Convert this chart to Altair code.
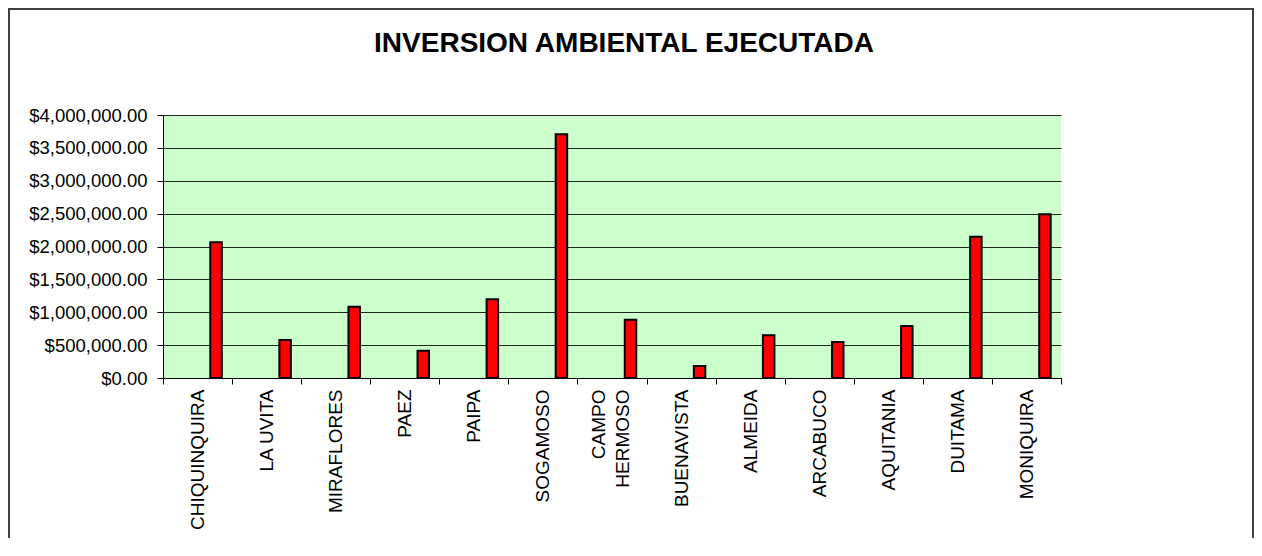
import altair as alt
import pandas as pd

categories = ["CHIQUINQUIRA", "LA UVITA", "MIRAFLORES", "PAEZ", "PAIPA", "SOGAMOSO",
              "CAMPO HERMOSO", "BUENAVISTA", "ALMEIDA", "ARCABUCO", "AQUITANIA",
              "DUITAMA", "MONIQUIRA"]
values = [2065000, 578000, 1085000, 415000, 1197000, 3706000, 887000, 183000,
          649000, 548000, 790000, 2149000, 2490000]
y_ticks = [0, 500000, 1000000, 1500000, 2000000, 2500000, 3000000, 3500000, 4000000]
title_text = "INVERSION AMBIENTAL EJECUTADA"

df = pd.DataFrame({"municipio": categories, "inversion": values})

FONT = "Liberation Sans, Arial, sans-serif"
NB = "\u00a0"
label_expr = ("datum.label == 'CAMPO HERMOSO' ? ['CAMPO" + NB * 3 + "', 'HERMOSO'] : datum.label")

bars = alt.Chart(df).mark_bar(
    width=11.5, xOffset=18.5, fill="#FF0000", stroke="#000000", strokeWidth=2
).encode(
    x=alt.X("municipio:N", sort=categories, title=None,
            scale=alt.Scale(paddingInner=0, paddingOuter=0),
            axis=alt.Axis(labelAngle=-90, tickBand="extent", labelFontSize=19,
                          labelFont=FONT, labelColor="#000000", domainColor="#000000",
                          tickColor="#000000", tickSize=6, labelPadding=5,
                          labelLineHeight=24, grid=False,
                          labelOffset={"condition": {"test": "datum.label == 'CAMPO HERMOSO'",
                                                     "value": -14}, "value": 0},
                          labelExpr=label_expr)),
    y=alt.Y("inversion:Q", title=None,
            scale=alt.Scale(domain=[0, 4000000], nice=False),
            axis=alt.Axis(values=y_ticks, format="$,.2f", labelFontSize=18.5,
                          labelFont=FONT, labelColor="#000000", domainColor="#000000",
                          tickColor="#000000", tickSize=6, labelPadding=10,
                          grid=True, gridColor="#000000", gridWidth=1, gridOpacity=0.85))
)

title = alt.Chart(alt.Data(values=[{"t": title_text}])).mark_text(
    font=FONT, fontSize=28, fontWeight="bold", color="#000000",
    align="center", baseline="alphabetic"
).encode(
    text="t:N", x=alt.value(461), y=alt.value(-63)
)

border = alt.Chart(alt.Data(values=[{}])).mark_rect(
    fill=None, stroke="#404040", strokeWidth=2
).encode(
    x=alt.value(-154), x2=alt.value(1090), y=alt.value(-106), y2=alt.value(600)
)

chart = alt.layer(bars, title, border).properties(
    width=898, height=263,
    autosize=alt.AutoSizeParams(type="none"),
    padding={"left": 155, "top": 107, "right": 193, "bottom": 160},
).configure(background="#FFFFFF").configure_view(fill="#CCFFCC", stroke=None)

chart.save("out.html", embed_options={"renderer": "svg", "actions": False})
